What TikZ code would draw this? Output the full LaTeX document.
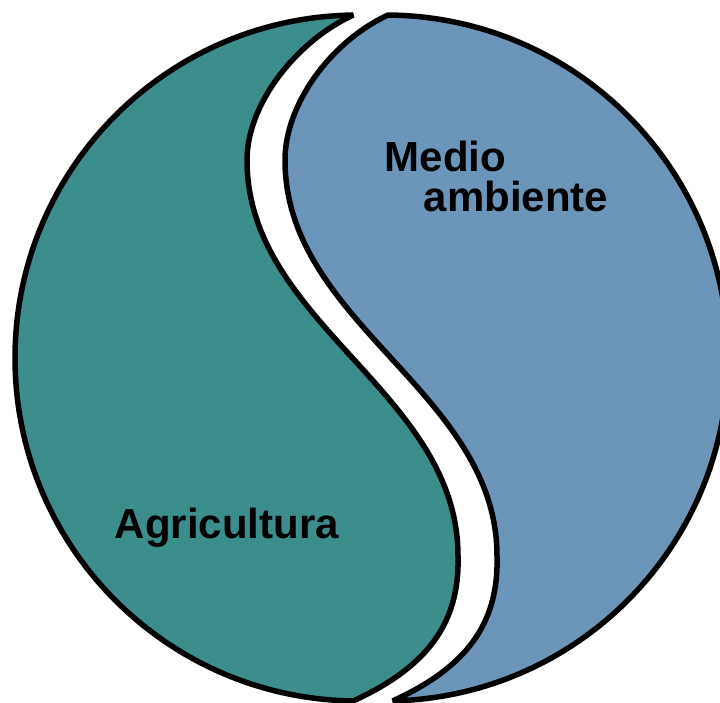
\documentclass[tikz,border=0pt]{standalone}
\usepackage{fontspec}
\setmainfont{Liberation Sans}
\usetikzlibrary{calc}
\definecolor{agrigreen}{RGB}{59,142,140}
\definecolor{envblue}{RGB}{108,149,186}

\begin{document}
\begin{tikzpicture}[x=1pt, y=-1pt, line width=5.5pt,
  half/.style={draw=black, line join=bevel},
  lbl/.style={font=\fontsize{42}{42}\selectfont\bfseries, inner sep=0pt, anchor=base west}]

\useasboundingbox (0,0) rectangle (720,703);

% Centres and tips
\coordinate (gc) at (358,358);
\coordinate (bc) at (385,358);
\coordinate (gtop) at ($(gc)+(269.2:343)$);
\coordinate (gbot) at ($(gc)+(90.8:343)$);
\coordinate (btop) at ($(bc)+(-89.5:343)$);
\coordinate (bbot) at ($(bc)+(88.7:343)$);

% Halves
\draw[half, fill=agrigreen] (gtop) arc[start angle=269.2, end angle=90.8, radius=343]
  .. controls (425,668) and (460,625) .. (458,556)
  .. controls (458,392) and (247,324) .. (247,160)
  .. controls (247,105) and (295,42) .. (gtop) -- cycle;
\draw[half, fill=envblue] (btop) arc[start angle=-89.5, end angle=88.7, radius=343]
  .. controls (465,668) and (499,625) .. (497,556)
  .. controls (497,392) and (285,324) .. (285,160)
  .. controls (285,105) and (330,42) .. (btop) -- cycle;

% Labels
\node[lbl] (medio) at (382,172) {Medio};
\node[lbl] (ambiente) at (421,212) {ambiente};
\node[lbl] (agri) at (112,538) {Agricultura};

\end{tikzpicture}
\end{document}
